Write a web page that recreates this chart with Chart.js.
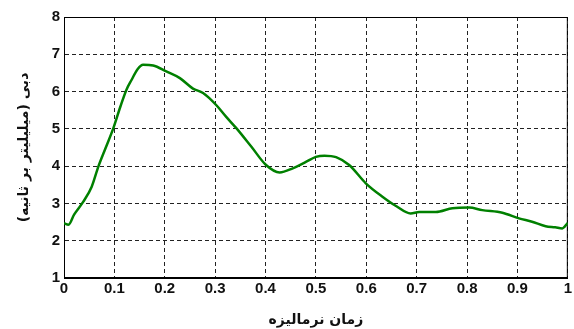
<!DOCTYPE html>
<html>
<head>
<meta charset="utf-8">
<script src="https://cdn.jsdelivr.net/npm/chart.js@4/dist/chart.umd.min.js"></script>
<style>
  html, body { margin: 0; padding: 0; background: #fff; }
  #wrap { width: 574px; height: 329px; }
</style>
</head>
<body>
<div id="wrap"><canvas id="c"></canvas></div>
<script>
// Normalised time (0..1) and flow rate (ml/s)
const timeValues = [0, 0.009, 0.02, 0.038, 0.055, 0.068, 0.083, 0.098, 0.112, 0.124, 0.134, 0.146, 0.157, 0.177, 0.203, 0.230, 0.256, 0.276, 0.302, 0.322, 0.342, 0.372, 0.401, 0.428, 0.454, 0.481, 0.500, 0.517, 0.540, 0.566, 0.599, 0.632, 0.659, 0.688, 0.705, 0.738, 0.771, 0.804, 0.830, 0.870, 0.903, 0.929, 0.956, 0.975, 0.989, 1.0];
const flowValues = [2.47, 2.43, 2.7, 3.04, 3.45, 3.98, 4.5, 5.02, 5.6, 6.05, 6.31, 6.6, 6.72, 6.70, 6.54, 6.36, 6.08, 5.96, 5.64, 5.32, 5.02, 4.52, 4.03, 3.83, 3.94, 4.12, 4.25, 4.28, 4.24, 4.03, 3.54, 3.18, 2.93, 2.73, 2.77, 2.77, 2.87, 2.89, 2.82, 2.75, 2.60, 2.51, 2.39, 2.36, 2.33, 2.48];
const xTicks = [0, 0.1, 0.2, 0.3, 0.4, 0.5, 0.6, 0.7, 0.8, 0.9, 1];
const yTicks = [1, 2, 3, 4, 5, 6, 7, 8];
const xTitle = 'زمان نرمالیزه';
const yTitle = 'دبی (میلیلیتر بر ثانیه)';

const points = timeValues.map((t, i) => ({ x: t, y: flowValues[i] }));
const tickFont = { family: 'Liberation Sans, Arial, sans-serif', size: 15, weight: 'bold' };
const titleFont = { family: 'DejaVu Sans, sans-serif', size: 14, weight: 'bold' };

new Chart(document.getElementById('c'), {
  type: 'line',
  data: {
    datasets: [{
      data: points,
      borderColor: '#008000',
      borderWidth: 2.5,
      pointRadius: 0,
      fill: false,
      cubicInterpolationMode: 'monotone'
    }]
  },
  options: {
    responsive: true,
    maintainAspectRatio: false,
    animation: false,
    layout: { padding: { top: 17, right: 5, left: 0, bottom: 0 } },
    plugins: { legend: { display: false }, tooltip: { enabled: false } },
    scales: {
      x: {
        type: 'linear',
        min: 0, max: 1,
        afterBuildTicks: s => { s.ticks = xTicks.map(v => ({ value: v })); },
        afterFit: s => { s.height = 51; },
        ticks: { font: tickFont, color: '#111', padding: 2, maxRotation: 0,
                 callback: v => String(v) },
        grid: { color: '#222', lineWidth: 1, drawTicks: false, tickLength: 0 },
        border: { display: true, color: '#000', width: 1, dash: [4, 3] },
        title: { display: true, text: xTitle, font: titleFont, color: '#111', padding: { top: 4, bottom: 0 } }
      },
      y: {
        min: 1, max: 8,
        afterBuildTicks: s => { s.ticks = yTicks.map(v => ({ value: v })); },
        afterFit: s => { s.width = 64; },
        ticks: { font: tickFont, color: '#111', padding: 4 },
        grid: { color: '#222', lineWidth: 1, drawTicks: false, tickLength: 0 },
        border: { display: true, color: '#000', width: 1, dash: [4, 3] },
        title: { display: true, text: yTitle, font: titleFont, color: '#111', padding: { top: 16, bottom: 0 } }
      }
    }
  },
  plugins: [{
    id: 'frame',
    beforeDatasetsDraw(chart) {
      const { ctx, chartArea: a } = chart;
      ctx.save();
      ctx.strokeStyle = '#000';
      ctx.lineWidth = 1;
      ctx.setLineDash([]);
      ctx.strokeRect(a.left + 0.5, a.top + 0.5, a.right - a.left - 1, a.bottom - a.top - 1);
      ctx.restore();
    }
  }]
});
</script>
</body>
</html>
